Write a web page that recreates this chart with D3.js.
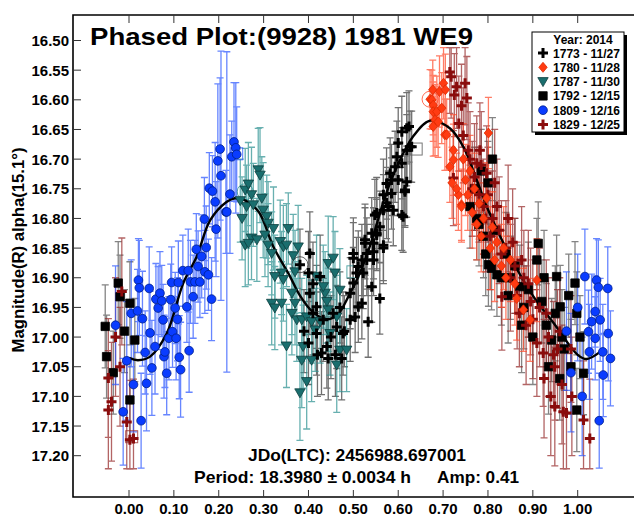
<!DOCTYPE html>
<html><head><meta charset="utf-8">
<script src="https://cdn.jsdelivr.net/npm/d3@7"></script>
<style>body{margin:0;background:#fff}svg{display:block;font-family:"Liberation Sans",Arial,sans-serif;font-weight:bold}</style>
</head><body><svg id="c" width="634" height="519"></svg>
<script>
// ---- data: [phase, magnitude, error] ----
const s1773 = [[0.381,16.878,0.06],[0.403,16.859,0.07],[0.400,16.892,0.07],[0.426,16.898,0.07],[0.403,16.926,0.07],[0.418,16.949,0.07],[0.433,16.971,0.07],[0.418,16.994,0.07],[0.441,17.016,0.07],[0.429,17.027,0.07],[0.444,17.036,0.07],[0.474,17.036,0.07],[0.477,16.994,0.07],[0.463,16.983,0.07],[0.493,16.971,0.07],[0.504,16.966,0.06],[0.511,16.949,0.06],[0.519,16.943,0.06],[0.533,16.974,0.06],[0.493,16.926,0.06],[0.500,16.909,0.06],[0.507,16.892,0.06],[0.500,16.859,0.06],[0.530,16.870,0.06],[0.526,16.842,0.06],[0.541,16.915,0.06],[0.559,16.935,0.06],[0.545,16.856,0.06],[0.567,16.850,0.06],[0.552,16.825,0.06],[0.548,16.794,0.06],[0.611,16.797,0.06],[0.615,16.755,0.06],[0.608,16.654,0.06],[0.624,16.645,0.06],[0.626,16.679,0.06],[0.619,16.685,0.06],[0.600,16.673,0.06],[0.597,16.696,0.06],[0.608,16.707,0.06],[0.593,16.713,0.06],[0.582,16.724,0.06],[0.585,16.735,0.06],[0.574,16.741,0.06],[0.600,16.735,0.06],[0.619,16.738,0.06],[0.615,16.752,0.06],[0.585,16.758,0.06],[0.567,16.760,0.06],[0.574,16.774,0.06],[0.578,16.780,0.06],[0.567,16.786,0.06],[0.589,16.786,0.06],[0.608,16.794,0.06],[0.552,16.791,0.06],[0.559,16.814,0.06],[0.541,16.825,0.06],[0.552,16.828,0.06],[0.545,16.842,0.06],[0.526,16.836,0.06],[0.567,16.845,0.06],[0.530,16.859,0.06],[0.545,16.870,0.06],[0.519,16.870,0.06],[0.500,16.867,0.06],[0.511,16.881,0.06],[0.522,16.892,0.06],[0.390,16.990,0.07],[0.400,17.010,0.07],[0.410,16.960,0.07],[0.420,17.030,0.07],[0.450,17.000,0.07],[0.455,16.960,0.07],[0.460,17.030,0.07],[0.470,16.950,0.06],[0.480,16.990,0.06],[0.410,16.910,0.07],[0.630,16.679,0.06],[0.619,16.648,0.06]];

const s1780 = [[0.671,16.599,0.05],[0.675,16.600,0.05],[0.677,16.583,0.05],[0.678,16.609,0.05],[0.678,16.620,0.05],[0.682,16.634,0.06],[0.678,16.645,0.05],[0.686,16.620,0.06],[0.689,16.637,0.06],[0.692,16.586,0.06],[0.697,16.614,0.06],[0.701,16.572,0.06],[0.705,16.583,0.06],[0.704,16.659,0.06],[0.708,16.659,0.06],[0.715,16.713,0.06],[0.723,16.685,0.06],[0.723,16.701,0.06],[0.734,16.760,0.06],[0.741,16.777,0.06],[0.741,16.780,0.06],[0.745,16.700,0.06],[0.750,16.735,0.06],[0.755,16.760,0.06],[0.760,16.720,0.06],[0.765,16.790,0.06],[0.770,16.750,0.06],[0.775,16.810,0.06],[0.780,16.775,0.06],[0.785,16.830,0.06],[0.790,16.800,0.06],[0.797,16.766,0.06],[0.801,16.656,0.06],[0.805,16.850,0.07],[0.810,16.815,0.06],[0.815,16.870,0.07],[0.820,16.840,0.06],[0.830,16.880,0.07],[0.835,16.850,0.07],[0.840,16.900,0.07],[0.850,16.870,0.07],[0.860,16.910,0.07],[0.864,16.935,0.07],[0.879,16.954,0.07],[0.894,16.971,0.07],[0.909,16.904,0.07],[0.730,16.750,0.06],[0.720,16.740,0.06]];

const s1787 = [[0.259,16.752,0.07],[0.266,16.742,0.07],[0.273,16.760,0.08],[0.262,16.780,0.07],[0.277,16.777,0.07],[0.288,16.718,0.07],[0.292,16.727,0.08],[0.296,16.766,0.07],[0.299,16.786,0.08],[0.307,16.797,0.07],[0.310,16.808,0.07],[0.322,16.817,0.07],[0.355,16.817,0.06],[0.259,16.845,0.07],[0.273,16.833,0.07],[0.285,16.836,0.07],[0.303,16.828,0.07],[0.310,16.845,0.07],[0.318,16.859,0.07],[0.337,16.839,0.07],[0.344,16.848,0.07],[0.351,16.845,0.07],[0.340,16.892,0.07],[0.325,16.898,0.07],[0.344,16.903,0.07],[0.366,16.863,0.07],[0.377,16.848,0.07],[0.370,16.890,0.07],[0.363,16.926,0.07],[0.318,16.943,0.07],[0.325,16.951,0.07],[0.340,16.943,0.07],[0.370,16.943,0.07],[0.363,16.960,0.07],[0.374,16.971,0.07],[0.385,16.971,0.07],[0.396,16.966,0.07],[0.407,16.974,0.07],[0.415,16.988,0.07],[0.351,17.015,0.07],[0.388,17.016,0.07],[0.385,17.039,0.08],[0.407,17.039,0.07],[0.396,17.075,0.08],[0.381,17.094,0.08],[0.444,16.876,0.08],[0.455,16.867,0.07],[0.459,16.892,0.07],[0.437,16.926,0.07],[0.470,16.921,0.07],[0.444,16.954,0.07],[0.426,16.974,0.07],[0.448,16.994,0.07],[0.463,16.966,0.07],[0.470,17.022,0.07],[0.463,17.047,0.08],[0.485,17.022,0.07],[0.433,16.915,0.07],[0.418,16.898,0.07],[0.441,16.940,0.07],[0.266,16.842,0.07],[0.248,16.770,0.07],[0.252,16.800,0.07]];

const s1792 = [[0.760,16.780,0.07],[0.775,16.800,0.07],[0.790,16.830,0.07],[0.808,16.884,0.07],[0.820,16.895,0.07],[0.840,16.860,0.07],[0.850,16.900,0.07],[0.871,16.915,0.07],[0.880,16.950,0.07],[0.912,16.842,0.07],[0.909,16.870,0.07],[0.920,16.940,0.07],[0.930,16.980,0.07],[0.942,17.005,0.07],[0.953,16.898,0.07],[0.961,16.949,0.07],[0.970,17.020,0.07],[0.980,16.930,0.07],[0.994,16.909,0.07],[0.998,16.960,0.07],[1.005,17.000,0.07],[1.013,17.061,0.07],[0.998,17.123,0.07],[0.960,17.070,0.07],[0.785,16.720,0.07],[0.800,16.740,0.07],[0.810,16.700,0.07],[0.801,16.878,0.07],[0.770,16.750,0.07],[0.780,16.810,0.07],[0.795,16.860,0.07],[0.815,16.820,0.08],[0.830,16.900,0.08],[0.845,16.930,0.08],[0.860,16.880,0.08],[0.875,16.980,0.08],[0.890,16.920,0.08],[0.900,17.000,0.08],[0.925,16.900,0.08],[0.935,17.050,0.08],[0.950,16.960,0.08],[0.965,17.000,0.08],[0.985,17.050,0.08],[-0.053,16.982,0.07],[-0.050,17.033,0.07],[-0.024,16.909,0.07],[-0.020,16.932,0.07],[0.002,16.943,0.07],[0.013,17.005,0.07],[0.002,17.106,0.07],[-0.035,17.060,0.07],[-0.010,16.990,0.07]];

const s1809 = [[-0.030,16.980,0.10],[-0.013,17.126,0.09],[-0.005,17.040,0.10],[0.005,16.960,0.09],[0.010,17.080,0.08],[0.019,16.956,0.07],[0.021,16.904,0.07],[0.023,16.917,0.08],[0.027,17.141,0.08],[0.030,16.969,0.08],[0.036,17.026,0.07],[0.039,17.078,0.08],[0.045,16.918,0.07],[0.047,16.993,0.07],[0.051,17.052,0.08],[0.058,17.016,0.08],[0.060,16.936,0.06],[0.065,16.951,0.07],[0.069,16.926,0.07],[0.073,16.939,0.06],[0.076,16.971,0.06],[0.078,17.033,0.07],[0.080,17.025,0.06],[0.084,17.061,0.07],[0.089,17.002,0.07],[0.093,16.937,0.06],[0.095,16.908,0.06],[0.097,16.991,0.06],[0.103,16.951,0.06],[0.105,17.002,0.07],[0.108,16.970,0.07],[0.110,16.908,0.07],[0.112,17.034,0.07],[0.115,17.055,0.08],[0.120,16.888,0.06],[0.129,16.949,0.06],[0.132,16.888,0.07],[0.134,17.023,0.07],[0.137,16.907,0.07],[0.143,16.932,0.07],[0.147,16.907,0.07],[0.150,16.852,0.06],[0.154,16.881,0.06],[0.158,16.907,0.06],[0.162,16.864,0.07],[0.168,16.801,0.07],[0.169,16.890,0.07],[0.172,16.849,0.07],[0.177,16.895,0.06],[0.179,16.749,0.06],[0.184,16.936,0.07],[0.186,16.754,0.06],[0.192,16.772,0.10],[0.194,16.818,0.08],[0.198,16.703,0.13],[0.203,16.683,0.12],[0.205,16.728,0.21],[0.216,16.789,0.07],[0.218,16.789,0.27],[0.225,16.759,0.10],[0.229,16.696,0.06],[0.234,16.671,0.10],[0.238,16.681,0.11],[0.240,16.692,0.08],[0.975,16.990,0.10],[0.985,17.060,0.10],[1.000,16.950,0.09],[1.010,17.100,0.10],[1.016,16.898,0.08],[1.024,16.991,0.07],[1.026,17.025,0.08],[1.031,16.974,0.08],[1.039,16.957,0.06],[1.039,17.002,0.07],[1.042,16.904,0.07],[1.046,16.916,0.08],[1.048,17.141,0.08],[1.050,16.971,0.07],[1.056,17.025,0.08],[1.057,17.064,0.07],[1.067,16.918,0.07],[1.068,16.994,0.08],[1.073,17.036,0.08]];

const s1829 = [[0.715,16.553,0.07],[0.718,16.561,0.07],[0.730,16.578,0.07],[0.725,16.592,0.07],[0.749,16.572,0.07],[0.753,16.597,0.07],[0.741,16.610,0.07],[0.723,16.732,0.08],[0.756,16.685,0.08],[0.782,16.685,0.08],[0.775,16.707,0.08],[0.797,16.724,0.08],[0.765,16.750,0.08],[0.790,16.780,0.08],[0.810,16.800,0.08],[0.820,16.780,0.08],[0.831,16.932,0.09],[0.840,16.850,0.08],[0.860,16.880,0.08],[0.870,16.960,0.09],[0.880,16.900,0.08],[0.895,16.940,0.09],[0.909,17.010,0.09],[0.923,17.027,0.09],[0.930,16.960,0.09],[0.946,17.030,0.09],[0.949,17.050,0.09],[0.949,17.117,0.10],[0.968,17.126,0.10],[0.975,17.128,0.10],[0.987,17.100,0.10],[1.013,17.140,0.10],[1.027,17.171,0.10],[0.960,16.990,0.09],[0.985,17.020,0.09],[0.735,16.640,0.08],[0.745,16.660,0.08],[0.760,16.700,0.08],[0.770,16.730,0.09],[0.780,16.760,0.08],[0.785,16.710,0.09],[0.795,16.800,0.09],[0.800,16.760,0.08],[0.805,16.830,0.09],[0.815,16.740,0.09],[0.825,16.820,0.09],[0.830,16.860,0.09],[0.845,16.800,0.09],[0.850,16.900,0.09],[0.855,16.840,0.09],[0.865,16.930,0.09],[0.875,16.870,0.09],[0.885,16.980,0.10],[0.890,16.910,0.09],[0.900,16.970,0.10],[0.915,16.950,0.10],[0.925,17.070,0.10],[0.935,17.000,0.10],[0.940,17.100,0.10],[0.955,17.020,0.10],[0.965,17.080,0.10],[-0.046,17.123,0.10],[-0.039,17.109,0.10],[-0.046,17.069,0.10],[-0.005,17.143,0.10],[0.010,17.171,0.10],[0.002,17.173,0.10],[-0.016,16.923,0.09],[-0.030,17.000,0.10],[-0.020,17.050,0.10]];

// fitted curve
const curvePhase = [0,0.02,0.047,0.084,0.121,0.151,0.181,0.218,0.236,0.26,0.29,0.322,0.359,0.381,0.41,0.44,0.465,0.49,0.51,0.53,0.55,0.57,0.597,0.633,0.671,0.715,0.745,0.775,0.80,0.85,0.90,0.95,1.00,1.02,1.05];
const curveMag = [17.035,17.039,17.033,16.994,16.909,16.864,16.803,16.772,16.766,16.770,16.790,16.848,16.898,16.930,16.958,16.970,16.962,16.930,16.900,16.862,16.815,16.765,16.713,16.662,16.635,16.648,16.679,16.735,16.785,16.865,16.930,16.980,17.030,17.037,17.025];

// first-point highlight marks [shape, phase, mag, series]
const highlights = [["circle",0.381,16.878,"1773"],["circle",0.671,16.599,"1780"],["circle",0.259,16.755,"1787"],["square",0.240,16.691,"1809"],["square",0.640,16.683,"1792"],["square",0.006,17.168,"1829"],["square",0.499,16.890,"1787"]];

const xTicks = [0,0.1,0.2,0.3,0.4,0.5,0.6,0.7,0.8,0.9,1.0];
const yTicks = [16.50,16.55,16.60,16.65,16.70,16.75,16.80,16.85,16.90,16.95,17.00,17.05,17.10,17.15,17.20];

const series = [
 {id:"1773", label:"1773 - 11/27", data:s1773, shape:"plus", fill:"#000", stroke:"#000", bar:"#3a3a3a"},
 {id:"1780", label:"1780 - 11/28", data:s1780, shape:"diamond", fill:"#ff3b12", stroke:"#e02a00", bar:"#ff4a2a"},
 {id:"1787", label:"1787 - 11/30", data:s1787, shape:"tri", fill:"#1a6e6e", stroke:"#0c3f3f", bar:"#2f9393"},
 {id:"1792", label:"1792 - 12/15", data:s1792, shape:"square", fill:"#000", stroke:"#000", bar:"#555"},
 {id:"1809", label:"1809 - 12/16", data:s1809, shape:"circle", fill:"#0a3cff", stroke:"#00208a", bar:"#2d58ff"},
 {id:"1829", label:"1829 - 12/25", data:s1829, shape:"plus", fill:"#8a0c0c", stroke:"#8a0c0c", bar:"#962a2a"}
];

const shapes = {
 plus:"M-5,0H5M0,-5V5",
 diamond:"M0,-5L4.2,0L0,5L-4.2,0Z",
 tri:"M-5.2,-4L5.2,-4L0,5Z",
 square:"M-4.2,-4.2H4.2V4.2H-4.2Z",
 circle:d3.symbol(d3.symbolCircle,60)()
};

const svg = d3.select("#c");
const x = d3.scaleLinear().domain([0,1]).range([129,577.7]);
const y = d3.scaleLinear().domain([16.5,17.2]).range([40.5,455.7]);
const clampY = v => Math.max(16.512, Math.min(17.222, v));

// error bars
const gBars = svg.append("g");
["1773","1792","1829","1787","1809","1780"].forEach(id=>{
  const s = series.find(q=>q.id===id);
  const g = gBars.append("g").attr("stroke", s.bar).attr("stroke-width",1.3).attr("opacity",0.72).attr("fill","none");
  s.data.forEach(d=>{
    const px = x(d[0]), y1 = y(clampY(d[1]-d[2])), y2 = y(clampY(d[1]+d[2]));
    g.append("path").attr("d", `M${px},${y1}V${y2}M${px-3.5},${y1}H${px+3.5}M${px-3.5},${y2}H${px+3.5}`);
  });
});

// highlight marks
const colOf = {}; series.forEach(s=>colOf[s.id]=s.bar);
highlights.forEach(h=>{
  const px=x(h[1]), py=y(h[2]);
  if(h[0]==="circle") svg.append("circle").attr("cx",px).attr("cy",py).attr("r",8).attr("fill","none").attr("stroke",colOf[h[3]]).attr("stroke-width",1).attr("opacity",0.8);
  else svg.append("rect").attr("x",px-6).attr("y",py-6).attr("width",12).attr("height",12).attr("fill","none").attr("stroke",colOf[h[3]]).attr("stroke-width",1).attr("opacity",0.8);
});

// fitted curve
const line = d3.line().x(d=>x(d[0])).y(d=>y(d[1])).curve(d3.curveCatmullRom.alpha(0.5));
svg.append("path").datum(curvePhase.map((p,i)=>[p,curveMag[i]])).attr("d",line)
  .attr("fill","none").attr("stroke","#000").attr("stroke-width",2.4);

// markers
const order = ["1787","1773","1792","1829","1780","1809"];
order.forEach(id=>{
  const s = series.find(q=>q.id===id);
  const g = svg.append("g");
  g.selectAll("path").data(s.data).join("path")
   .attr("transform",d=>`translate(${x(d[0])},${y(d[1])})`)
   .attr("d",shapes[s.shape])
   .attr("fill", s.shape==="plus"?"none":s.fill)
   .attr("stroke", s.stroke)
   .attr("stroke-width", s.shape==="plus"?3:0.8);
});

// frame
const L=73, T=15, B=497, R=634;
svg.append("path").attr("d",`M${R},${T}H${L}V${B}H${R}`).attr("fill","none").attr("stroke","#000").attr("stroke-width",1.6);

// x ticks (bottom and top, inward)
xTicks.forEach(t=>{
  svg.append("line").attr("x1",x(t)).attr("x2",x(t)).attr("y1",B).attr("y2",B-7).attr("stroke","#333").attr("stroke-width",1);
  svg.append("line").attr("x1",x(t)).attr("x2",x(t)).attr("y1",T).attr("y2",T+8).attr("stroke","#333").attr("stroke-width",1);
  svg.append("text").attr("x",x(t)).attr("y",514).attr("text-anchor","middle").attr("font-size",15).text(d3.format(".2f")(t));
});
// y ticks
yTicks.forEach(t=>{
  svg.append("line").attr("x1",L).attr("x2",L+8).attr("y1",y(t)).attr("y2",y(t)).attr("stroke","#333").attr("stroke-width",1);
  svg.append("text").attr("x",69).attr("y",y(t)+5.5).attr("text-anchor","end").attr("font-size",15).text(d3.format(".2f")(t));
});

// axis title
svg.append("text").attr("transform","translate(24,250) rotate(-90)").attr("text-anchor","middle").attr("font-size",16).attr("textLength",205).attr("lengthAdjust","spacingAndGlyphs").text("Magnitude(R) alpha(15.1°)");

// title
svg.append("text").attr("x",90).attr("y",45).attr("font-size",24).attr("textLength",383).attr("lengthAdjust","spacingAndGlyphs").text("Phased Plot:(9928) 1981 WE9");

// annotations
svg.append("text").attr("x",248).attr("y",461).attr("font-size",17).attr("textLength",218).attr("lengthAdjust","spacingAndGlyphs").text("JDo(LTC): 2456988.697001");
svg.append("text").attr("x",194).attr("y",483).attr("font-size",17).attr("textLength",217).attr("lengthAdjust","spacingAndGlyphs").text("Period: 18.3980 ± 0.0034 h");
svg.append("text").attr("x",437).attr("y",483).attr("font-size",17).attr("textLength",82).attr("lengthAdjust","spacingAndGlyphs").text("Amp: 0.41");

// legend
const lg = svg.append("g");
lg.append("rect").attr("x",535).attr("y",35).attr("width",92).attr("height",100).attr("fill","#000");
lg.append("rect").attr("x",532).attr("y",32).attr("width",92).attr("height",100).attr("fill","#fff").attr("stroke","#000").attr("stroke-width",1);
lg.append("text").attr("x",583).attr("y",44).attr("text-anchor","middle").attr("font-size",12).text("Year: 2014");
series.forEach((s,i)=>{
  const cy = 53 + i*14.3;
  lg.append("path").attr("transform",`translate(543,${cy})`).attr("d",shapes[s.shape])
    .attr("fill", s.shape==="plus"?"none":s.fill).attr("stroke",s.stroke).attr("stroke-width",s.shape==="plus"?3:0.8);
  lg.append("text").attr("x",553).attr("y",cy+4.5).attr("font-size",12.5).attr("textLength",67).attr("lengthAdjust","spacingAndGlyphs").text(s.label);
});
</script></body></html>
